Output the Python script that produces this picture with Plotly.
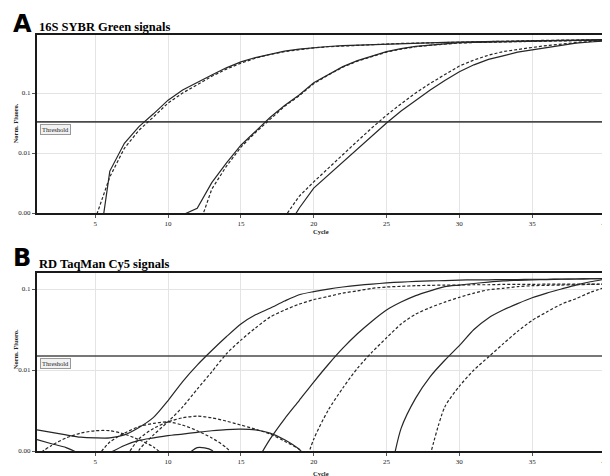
import plotly.graph_objects as go

# ---------------- data (normalised fluorescence per cycle) ----------------
CYCLE_TICKS = [5, 10, 15, 20, 25, 30, 35, 40]
Y_TICK_VALS = [0.001, 0.01, 0.1]
Y_TICK_TEXT = ["0.00", "0.01", "0.1"]

THRESHOLD_A = 0.033
THRESHOLD_B = 0.0149

# Panel A: 16S SYBR Green (start cycle, values)
A1_SOLID_START = 5
A1_SOLID = [0.0001, 0.005, 0.0145, 0.0275, 0.045, 0.076, 0.112, 0.151, 0.2, 0.263, 0.33, 0.39,
            0.447, 0.5, 0.537, 0.57, 0.596, 0.617, 0.63, 0.645, 0.66, 0.676, 0.684, 0.69, 0.70,
            0.708, 0.716, 0.72, 0.728, 0.735, 0.74, 0.748, 0.755, 0.76, 0.77, 0.775]
A1_DASH_START = 5
A1_DASH = [0.0008, 0.004, 0.012, 0.024, 0.04, 0.068, 0.1, 0.14, 0.19, 0.25, 0.315, 0.38, 0.44,
           0.49, 0.53, 0.565, 0.59, 0.61, 0.625, 0.64, 0.655, 0.67, 0.68, 0.69, 0.70, 0.71, 0.72,
           0.73, 0.74, 0.745, 0.75, 0.755, 0.76, 0.765, 0.77, 0.775]
A2_SOLID_START = 11
A2_SOLID = [0.00093, 0.0012, 0.0032, 0.0068, 0.0135, 0.0234, 0.039, 0.062, 0.093, 0.148, 0.204,
            0.275, 0.347, 0.417, 0.49, 0.55, 0.6, 0.63, 0.66, 0.69, 0.70, 0.71, 0.72, 0.725, 0.73,
            0.74, 0.745, 0.75, 0.755, 0.76]
A2_DASH_START = 12
A2_DASH = [0.0005, 0.0025, 0.006, 0.0125, 0.022, 0.037, 0.06, 0.09, 0.143, 0.2, 0.27, 0.34, 0.41,
           0.48, 0.54, 0.59, 0.625, 0.655, 0.68, 0.695, 0.705, 0.715, 0.72, 0.73, 0.735, 0.74,
           0.745, 0.75, 0.755]
A3_SOLID_START = 18
A3_SOLID = [0.00048, 0.0012, 0.0026, 0.0043, 0.0071, 0.0117, 0.0195, 0.0316, 0.05, 0.076, 0.112,
            0.162, 0.226, 0.295, 0.363, 0.417, 0.479, 0.525, 0.575, 0.63, 0.676, 0.708, 0.741]
A3_DASH_START = 18
A3_DASH = [0.00085, 0.0019, 0.0033, 0.0056, 0.0095, 0.0158, 0.0263, 0.0427, 0.066, 0.1, 0.145,
           0.2, 0.282, 0.355, 0.427, 0.49, 0.537, 0.575, 0.617, 0.66, 0.69, 0.724, 0.75]

# Panel B: RD TaqMan Cy5
B1_SOLID_START = 1
B1_SOLID = [0.00182, 0.0017, 0.00158, 0.00148, 0.00145, 0.00145, 0.00158, 0.00195, 0.0026, 0.0042,
            0.0072, 0.0115, 0.0174, 0.0257, 0.037, 0.048, 0.058, 0.071, 0.085, 0.093, 0.1, 0.106,
            0.111, 0.115, 0.119, 0.122, 0.124, 0.126, 0.127, 0.129, 0.13, 0.13, 0.131, 0.131,
            0.132, 0.132, 0.133, 0.133, 0.134, 0.134]
B1_DASH_START = 7
B1_DASH = [0.0003, 0.00102, 0.00158, 0.0023, 0.0035, 0.0058, 0.0095, 0.0158, 0.0234, 0.033,
           0.045, 0.055, 0.065, 0.074, 0.081, 0.089, 0.095, 0.102, 0.106, 0.108, 0.11, 0.111,
           0.112, 0.112, 0.113, 0.113, 0.114, 0.114, 0.114, 0.115, 0.115, 0.115, 0.115, 0.115]
B2_SOLID_START = 16
B2_SOLID = [0.0007, 0.0014, 0.0025, 0.0042, 0.0071, 0.0117, 0.0186, 0.028, 0.04, 0.055, 0.069,
            0.083, 0.095, 0.107, 0.112, 0.117, 0.122, 0.126, 0.128, 0.13, 0.131, 0.132, 0.133,
            0.134, 0.135]
B2_DASH_START = 19
B2_DASH = [0.0004, 0.0014, 0.0032, 0.006, 0.0105, 0.0166, 0.025, 0.037, 0.049, 0.059, 0.069,
           0.079, 0.089, 0.098, 0.102, 0.107, 0.11, 0.111, 0.112, 0.113, 0.114, 0.115]
B3_SOLID_START = 25
B3_SOLID = [0.0003, 0.0019, 0.0045, 0.0083, 0.0132, 0.02, 0.0316, 0.044, 0.055, 0.066, 0.078,
            0.089, 0.1, 0.112, 0.123, 0.132]
B3_DASH_START = 28
B3_DASH = [0.00089, 0.0035, 0.0063, 0.01, 0.0145, 0.021, 0.03, 0.041, 0.052, 0.065, 0.076,
           0.091, 0.105]
# baseline noise traces in panel B
BN1_SOLID_START = 1
BN1_SOLID = [0.00138, 0.00123, 0.0011, 0.00089, 0.0005]
BN2_DASH_START = 1
BN2_DASH = [0.00089, 0.00117, 0.00145, 0.00166, 0.00178, 0.00178, 0.00162, 0.00138, 0.00112,
            0.00079]
BN3_DASH_START = 5
BN3_DASH = [0.00079, 0.00129, 0.00166, 0.002, 0.00219, 0.00229, 0.00209, 0.00178, 0.00145,
            0.0011, 0.0007]
BN4_DASH_START = 7
BN4_DASH = [0.00079, 0.00141, 0.0019, 0.00229, 0.00257, 0.00269, 0.00257, 0.00234, 0.00209,
            0.00186, 0.00162, 0.00132, 0.00105, 0.0007]
BN5_SOLID_START = 6
BN5_SOLID = [0.00095, 0.00117, 0.00135, 0.00145, 0.00155, 0.00162, 0.0017, 0.00178, 0.00184,
             0.00186, 0.00182, 0.00166, 0.00138, 0.00105, 0.00063]
BN6_SOLID_START = 11
BN6_SOLID = [0.00079, 0.0011, 0.00102, 0.0005]

# ---------------- figure ----------------
LINE_COLOR = "#262626"
DASH = "3px,2px"
fig = go.Figure()


def add_curve(start, values, dashed, xa, ya, shape="linear"):
    xs = list(range(start, start + len(values)))
    fig.add_trace(go.Scatter(
        x=xs, y=values, mode="lines", xaxis=xa, yaxis=ya, showlegend=False,
        hoverinfo="skip",
        line=dict(color=LINE_COLOR, width=1.2, dash=DASH if dashed else "solid",
                  shape=shape, smoothing=0.7 if shape == "spline" else None),
    ))


# threshold lines
fig.add_trace(go.Scatter(x=[1, 40], y=[THRESHOLD_A, THRESHOLD_A], mode="lines", xaxis="x",
                         yaxis="y", showlegend=False, hoverinfo="skip",
                         line=dict(color="#4a4a4a", width=1.6)))
fig.add_trace(go.Scatter(x=[1, 40], y=[THRESHOLD_B, THRESHOLD_B], mode="lines", xaxis="x2",
                         yaxis="y2", showlegend=False, hoverinfo="skip",
                         line=dict(color="#4a4a4a", width=1.6)))

for st, vals, d in [(A1_SOLID_START, A1_SOLID, False), (A1_DASH_START, A1_DASH, True),
                    (A2_SOLID_START, A2_SOLID, False), (A2_DASH_START, A2_DASH, True),
                    (A3_SOLID_START, A3_SOLID, False), (A3_DASH_START, A3_DASH, True)]:
    add_curve(st, vals, d, "x", "y")

for st, vals, d in [(B1_SOLID_START, B1_SOLID, False), (B1_DASH_START, B1_DASH, True),
                    (B2_SOLID_START, B2_SOLID, False), (B2_DASH_START, B2_DASH, True),
                    (B3_SOLID_START, B3_SOLID, False), (B3_DASH_START, B3_DASH, True),
                    (BN1_SOLID_START, BN1_SOLID, False), (BN2_DASH_START, BN2_DASH, True),
                    (BN3_DASH_START, BN3_DASH, True), (BN4_DASH_START, BN4_DASH, True),
                    (BN5_SOLID_START, BN5_SOLID, False), (BN6_SOLID_START, BN6_SOLID, False)]:
    add_curve(st, vals, d, "x2", "y2", shape="spline")

TICK_FONT = dict(family="Liberation Serif", size=7, color="#222")
xcommon = dict(range=[1, 40], tickvals=CYCLE_TICKS, showgrid=True, gridcolor="#e4e4e4",
               gridwidth=1, zeroline=False, showline=True, linecolor="#1a1a1a", linewidth=2,
               mirror=True, ticks="outside", ticklen=3, tickcolor="#555", tickfont=TICK_FONT,
               ticklabeloverflow="allow")
ycommon = dict(type="log", tickvals=Y_TICK_VALS, ticktext=Y_TICK_TEXT, showgrid=True,
               gridcolor="#e4e4e4", gridwidth=1, zeroline=False, showline=True,
               linecolor="#1a1a1a", linewidth=2, mirror=False, ticks="outside", ticklen=3,
               tickcolor="#555", tickfont=TICK_FONT)

# page body has an 8px default margin: shrink the figure by that amount
fig.update_layout(
    width=602, height=468,
    margin=dict(l=29, r=1, t=27, b=25),
    paper_bgcolor="white", plot_bgcolor="white",
    xaxis=dict(**xcommon, domain=[0, 1], anchor="y"),
    yaxis=dict(**ycommon, domain=[0.5721, 1.0], range=[-3, -0.033], anchor="x"),
    xaxis2=dict(**xcommon, domain=[0, 1], anchor="y2"),
    yaxis2=dict(**ycommon, domain=[0.0, 0.4279], range=[-3, -0.802], anchor="x2"),
)

ann = []
LETTER_FONT = dict(family="DejaVu Sans", size=24, color="black")
TITLE_FONT = dict(family="Liberation Serif", size=12.5, color="black")
SMALL_FONT = dict(family="Liberation Serif", size=6.5, color="#222")
ann.append(dict(text="<b>A</b>", x=-0.046, y=1.0264, xref="paper", yref="paper",
                xanchor="left", yanchor="middle", showarrow=False, font=LETTER_FONT))
ann.append(dict(text="<b>16S SYBR Green signals</b>", x=0.0, y=1.019, xref="paper",
                yref="paper", xanchor="left", yanchor="middle", showarrow=False, font=TITLE_FONT))
ann.append(dict(text="<b>B</b>", x=-0.046, y=0.463, xref="paper", yref="paper",
                xanchor="left", yanchor="middle", showarrow=False, font=LETTER_FONT))
ann.append(dict(text="<b>RD TaqMan Cy5 signals</b>", x=0.0, y=0.4495, xref="paper",
                yref="paper", xanchor="left", yanchor="middle", showarrow=False, font=TITLE_FONT))
for yy in (0.788, 0.245):
    ann.append(dict(text="<b>Norm. Fluoro.</b>", x=-0.0385, y=yy, xref="paper", yref="paper",
                    xanchor="center", yanchor="middle", textangle=-90, showarrow=False,
                    font=SMALL_FONT))
for yy in (0.5285, -0.0529):
    ann.append(dict(text="<b>Cycle</b>", x=0.5, y=yy, xref="paper", yref="paper",
                    xanchor="center", yanchor="middle", showarrow=False, font=SMALL_FONT))
for yy in (0.786, 0.2236):
    ann.append(dict(text="Threshold", x=0.005, y=yy, xref="paper", yref="paper",
                    xanchor="left", yanchor="top", showarrow=False,
                    font=dict(family="Liberation Serif", size=6.5, color="#222"),
                    bgcolor="#f2f2f2", bordercolor="#999", borderwidth=1, borderpad=1))
fig.update_layout(annotations=ann)

fig.write_html("out.html")
